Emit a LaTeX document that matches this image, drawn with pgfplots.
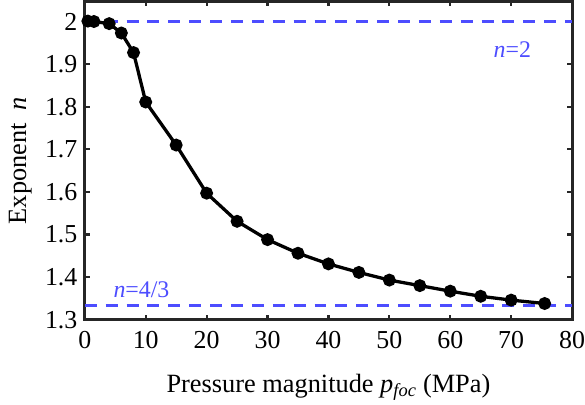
\documentclass[border=0pt]{standalone}
\usepackage{fontspec}
\setmainfont{Liberation Serif}
\usepackage{pgfplots}
\pgfplotsset{compat=1.18}
\definecolor{axgray}{HTML}{262626}
\definecolor{refblue}{HTML}{4D4DFF}
\begin{document}
\begin{tikzpicture}
\begin{axis}[
    scale only axis,
    width=490pt, height=320pt,
    xmin=0, xmax=80, ymin=1.3, ymax=2.047,
    xtick={0,10,...,80},
    xticklabels={0,10,20,30,40,50,60,70,80},
    ytick={1.3,1.4,1.5,1.6,1.7,1.8,1.9,2.0},
    yticklabels={1.3,1.4,1.5,1.6,1.7,1.8,1.9,2},
    xtick pos=both, ytick pos=both,
    tick label style={font=\rmfamily\fontsize{26}{28}\selectfont},
    xticklabel style={yshift=-8pt, inner xsep=0pt},
    yticklabel style={xshift=-4pt},
    tick align=inside,
    major tick length=5pt,
    tick style={axgray, line width=2.2pt},
    axis line style={axgray, line width=3pt},
    xlabel={Pressure magnitude \textit{p}\textsubscript{\textit{foc}} (MPa)},
    ylabel={Exponent \ \textit{n}},
    label style={font=\rmfamily\fontsize{26.5}{28}\selectfont},
    xlabel style={at={(axis description cs:0.5,-0.16)}, anchor=north},
    ylabel style={at={(axis description cs:-0.09,0.5)}, anchor=south, inner ysep=9pt},
    clip=false,
]
\addplot[refblue, line width=2.5pt, dash pattern=on 12pt off 9pt] coordinates {(0,2) (80,2)};
\addplot[refblue, line width=2.5pt, dash pattern=on 12pt off 9pt] coordinates {(0,1.33333) (80,1.33333)};
\addplot[black, line width=3.3pt, mark=*, mark size=4.8pt] coordinates {
    (0.5,2.001) (1.5,2.000) (4,1.995) (6,1.973) (8,1.927) (10,1.811)
    (15,1.710) (20,1.597) (25,1.531) (30,1.488) (35,1.456) (40,1.431)
    (45,1.411) (50,1.393) (55,1.380) (60,1.367) (65,1.355) (70,1.346)
    (75.5,1.338)
};
\node[refblue, font=\rmfamily\fontsize{24}{26}\selectfont] at (axis cs:70.2,1.935) {\textit{n}=2};
\node[refblue, font=\rmfamily\fontsize{24}{26}\selectfont] at (axis cs:9.3,1.37) {\textit{n}=4/3};
\end{axis}
\end{tikzpicture}
\end{document}
